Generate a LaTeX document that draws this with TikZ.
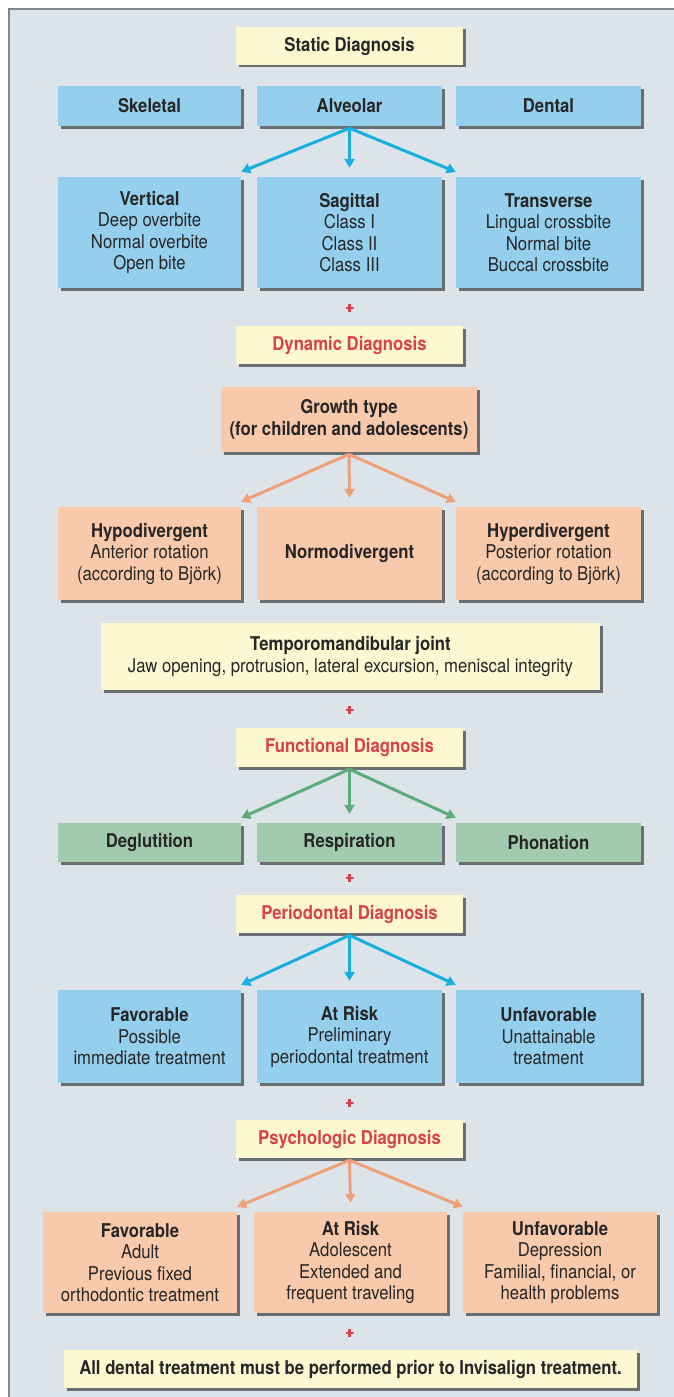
\documentclass[tikz,border=0pt]{standalone}
\usepackage{fontspec}
\setmainfont{TeX Gyre Heros}[FakeStretch=0.88]
\usetikzlibrary{arrows.meta,calc,shadows}

\definecolor{panel}{HTML}{DCE4E9}
\definecolor{frameline}{HTML}{80868A}
\definecolor{cream}{HTML}{FDF7D2}
\definecolor{sky}{HTML}{94D0EE}
\definecolor{salmon}{HTML}{F8C9AA}
\definecolor{sage}{HTML}{A2CAAF}
\definecolor{skyarrow}{HTML}{19AEE0}
\definecolor{salmonarrow}{HTML}{F0A078}
\definecolor{sagearrow}{HTML}{5CAB7B}
\definecolor{headred}{HTML}{D8414A}
\definecolor{ink}{HTML}{262626}
\definecolor{boxshade}{HTML}{555A5E}

\tikzset{
  box/.style={rectangle, inner sep=0pt, align=center, text=ink,
    font=\fontsize{19}{21.5}\selectfont,
    drop shadow={shadow xshift=2.5pt, shadow yshift=-2.5pt, fill=boxshade, opacity=0.85}},
  ybox/.style={box, fill=cream},
  bbox/.style={box, fill=sky},
  sbox/.style={box, fill=salmon},
  gbox/.style={box, fill=sage},
  plusmark/.style={rectangle, inner sep=0pt, minimum size=8pt,
    path picture={\draw[headred, line width=2.2pt]
      (path picture bounding box.north) -- (path picture bounding box.south)
      (path picture bounding box.west) -- (path picture bounding box.east);}},
  arr/.style={line width=3pt, -{Triangle[length=9pt,width=10pt]}},
}

% three arrows fanning out from a heading box to a row of three boxes
\newcommand\fanout[5]{%
  \draw[arr,#5] ($(#1.south)+(0,2)$) -- ($(#2.north east)+(0,-5)$);
  \draw[arr,#5] ($(#1.south)+(0,2)$) -- ($(#3.north)+(0,-9)$);
  \draw[arr,#5] ($(#1.south)+(0,2)$) -- ($(#4.north west)+(0,-5)$);
}
\newcommand\hd[1]{\textbf{#1}}
\newcommand\rd[1]{\textcolor{headred}{\textbf{#1}}}

\begin{document}
\begin{tikzpicture}[x=1pt, y=-1pt]
  \useasboundingbox (0,0) rectangle (674,1397);
  \fill[white] (0,0) rectangle (674,1397);
  \draw[frameline, line width=2.5pt, fill=panel] (9,9) rectangle (700,1420);

  % static diagnosis
  \node[ybox, minimum width=227pt, minimum height=38pt] (stat) at (349.5,46) {\hd{Static Diagnosis}};
  \node[bbox, minimum width=183pt, minimum height=40pt] (skel) at (149.5,106) {\hd{Skeletal}};
  \node[bbox, minimum width=185pt, minimum height=40pt] (alve) at (349.5,106) {\hd{Alveolar}};
  \node[bbox, minimum width=185pt, minimum height=40pt] (dent) at (548.5,106) {\hd{Dental}};
  \node[bbox, minimum width=183pt, minimum height=111pt] (vert) at (149.5,232.5)
    {\hd{Vertical}\\Deep overbite\\Normal overbite\\Open bite};
  \node[bbox, minimum width=185pt, minimum height=111pt] (sagi) at (349.5,232.5)
    {\hd{Sagittal}\\Class I\\Class II\\Class III};
  \node[bbox, minimum width=185pt, minimum height=111pt] (tran) at (548.5,232.5)
    {\hd{Transverse}\\Lingual crossbite\\Normal bite\\Buccal crossbite};
  \fanout{alve}{vert}{sagi}{tran}{skyarrow}
  \node[plusmark] (p1) at (349.5,308) {};

  % dynamic diagnosis
  \node[ybox, minimum width=227pt, minimum height=38pt] (dyna) at (349.5,345) {\rd{Dynamic Diagnosis}};
  \node[sbox, minimum width=256pt, minimum height=65pt] (grow) at (349,419.5)
    {\hd{Growth type}\\\hd{(for children and adolescents)}};
  \node[sbox, minimum width=183pt, minimum height=93pt] (hypo) at (149.5,553.5)
    {\hd{Hypodivergent}\\Anterior rotation\\(according to Björk)};
  \node[sbox, minimum width=185pt, minimum height=93pt] (norm) at (349.5,553.5)
    {\hd{Normodivergent}};
  \node[sbox, minimum width=185pt, minimum height=93pt] (hype) at (548.5,553.5)
    {\hd{Hyperdivergent}\\Posterior rotation\\(according to Björk)};
  \fanout{grow}{hypo}{norm}{hype}{salmonarrow}
  \node[ybox, minimum width=499pt, minimum height=67pt] (tmj) at (350.5,656.5)
    {\hd{Temporomandibular joint}\\Jaw opening, protrusion, lateral excursion, meniscal integrity};
  \node[plusmark] (p2) at (349.5,710) {};

  % functional diagnosis
  \node[ybox, minimum width=227pt, minimum height=39pt] (func) at (349.5,747.5) {\rd{Functional Diagnosis}};
  \node[gbox, minimum width=183pt, minimum height=39pt] (degl) at (149.5,842.5) {\hd{Deglutition}};
  \node[gbox, minimum width=185pt, minimum height=39pt] (resp) at (349.5,842.5) {\hd{Respiration}};
  \node[gbox, minimum width=185pt, minimum height=39pt] (phon) at (548.5,842.5) {\hd{Phonation}};
  \fanout{func}{degl}{resp}{phon}{sagearrow}
  \node[plusmark] (p3) at (349.5,878) {};

  % periodontal diagnosis
  \node[ybox, minimum width=227pt, minimum height=38pt] (peri) at (349.5,914) {\rd{Periodontal Diagnosis}};
  \node[bbox, minimum width=183pt, minimum height=93pt] (pfav) at (149.5,1036.5)
    {\hd{Favorable}\\Possible\\immediate treatment};
  \node[bbox, minimum width=185pt, minimum height=93pt] (prsk) at (349.5,1036.5)
    {\hd{At Risk}\\Preliminary\\periodontal treatment};
  \node[bbox, minimum width=185pt, minimum height=93pt] (punf) at (548.5,1036.5)
    {\hd{Unfavorable}\\Unattainable\\treatment};
  \fanout{peri}{pfav}{prsk}{punf}{skyarrow}
  \node[plusmark] (p4) at (349.5,1103) {};

  % psychologic diagnosis
  \node[ybox, minimum width=227pt, minimum height=38pt] (psyc) at (349.5,1139) {\rd{Psychologic Diagnosis}};
  \node[sbox, minimum width=194pt, minimum height=101pt] (sfav) at (140,1262.5)
    {\hd{Favorable}\\Adult\\Previous fixed\\orthodontic treatment};
  \node[sbox, minimum width=193pt, minimum height=101pt] (srsk) at (350.5,1262.5)
    {\hd{At Risk}\\Adolescent\\Extended and\\frequent traveling};
  \node[sbox, minimum width=194pt, minimum height=101pt] (sunf) at (560,1262.5)
    {\hd{Unfavorable}\\Depression\\Familial, financial, or\\health problems};
  \fanout{psyc}{sfav}{srsk}{sunf}{salmonarrow}
  \node[plusmark] (p5) at (349.5,1333) {};

  % closing note
  \node[ybox, minimum width=573pt, minimum height=38pt] (note) at (350.5,1369)
    {\hd{All dental treatment must be performed prior to Invisalign treatment.}};
\end{tikzpicture}
\end{document}
